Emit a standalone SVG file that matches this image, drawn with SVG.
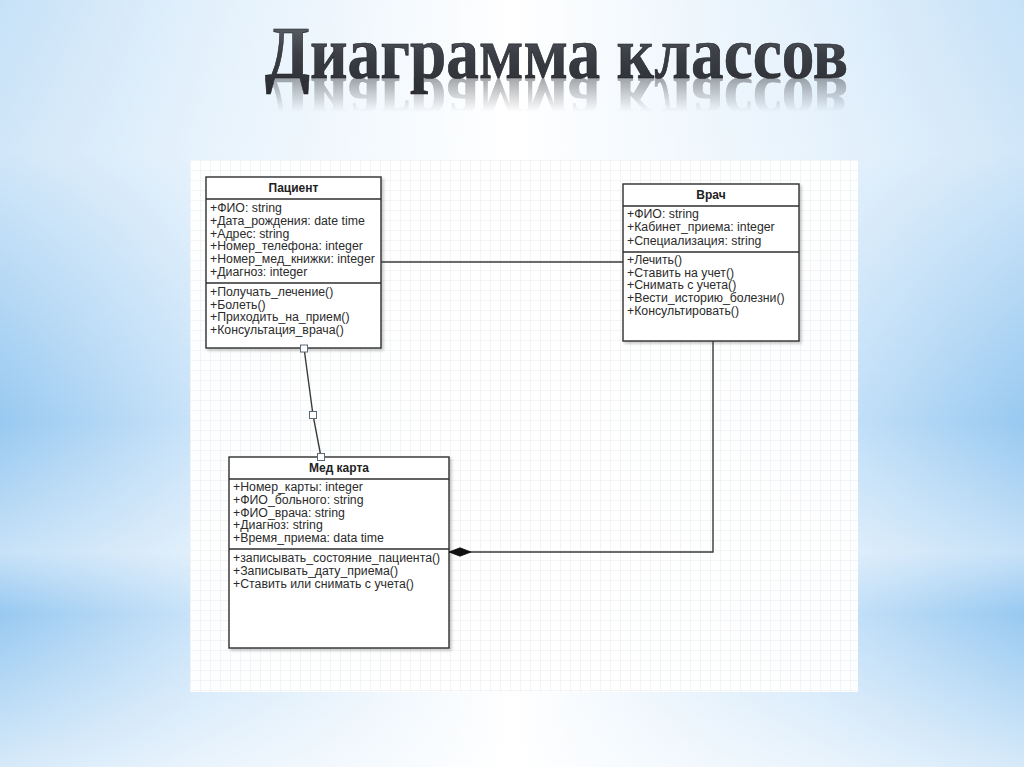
<svg xmlns="http://www.w3.org/2000/svg" width="1024" height="767" viewBox="0 0 1024 767">
  <defs>
    <linearGradient id="bgH" x1="0" y1="0" x2="1" y2="0">
      <stop offset="0" stop-color="#98c9f1"/>
      <stop offset="0.2" stop-color="#cbe4f9"/>
      <stop offset="0.5" stop-color="#ffffff"/>
      <stop offset="0.8" stop-color="#cbe4f9"/>
      <stop offset="1" stop-color="#98c9f1"/>
    </linearGradient>
    <linearGradient id="bgV" x1="0" y1="0" x2="0" y2="1">
      <stop offset="0" stop-color="#ffffff" stop-opacity="0.45"/>
      <stop offset="0.2" stop-color="#ffffff" stop-opacity="0.55"/>
      <stop offset="0.55" stop-color="#ffffff" stop-opacity="0"/>
      <stop offset="0.72" stop-color="#ffffff" stop-opacity="0.45"/>
      <stop offset="0.8" stop-color="#ffffff" stop-opacity="0"/>
      <stop offset="1" stop-color="#ffffff" stop-opacity="0.6"/>
    </linearGradient>
    <linearGradient id="titleFill" x1="0" y1="0" x2="0" y2="1">
      <stop offset="0" stop-color="#6a6e76"/>
      <stop offset="0.5" stop-color="#3c3f46"/>
      <stop offset="1" stop-color="#2a2c31"/>
    </linearGradient>
    <linearGradient id="reflFade" x1="0" y1="0" x2="0" y2="1">
      <stop offset="0" stop-color="#fff" stop-opacity="0.55"/>
      <stop offset="1" stop-color="#fff" stop-opacity="0"/>
    </linearGradient>
    <mask id="reflMask" maskUnits="userSpaceOnUse" x="0" y="0" width="1024" height="767">
      <rect x="0" y="78" width="1024" height="34" fill="url(#reflFade)"/>
    </mask>
    <pattern id="grid" width="10" height="10" patternUnits="userSpaceOnUse" x="190" y="160">
      <path d="M10 0 L0 0 0 10" fill="none" stroke="#e8eaee" stroke-width="1"/>
    </pattern>
    <filter id="shadow" x="-5%" y="-5%" width="115%" height="115%">
      <feDropShadow dx="2" dy="2" stdDeviation="1.5" flood-color="#000" flood-opacity="0.22"/>
    </filter>
    <marker id="diamond" viewBox="0 0 22 10" refX="22" refY="5" markerWidth="22" markerHeight="10" markerUnits="userSpaceOnUse" orient="auto">
      <path d="M0 5 L11 0.8 L22 5 L11 9.2 Z" fill="#111" stroke="#111" stroke-width="0.8"/>
    </marker>
    <style>
      .box { fill: #ffffff; stroke: #2e2e2e; stroke-width: 1.4; }
      .sep { stroke: #2e2e2e; stroke-width: 1.3; }
      .name { font-family: "Liberation Sans", Arial, sans-serif; font-size: 12px; font-weight: bold; fill: #222; text-anchor: middle; }
      .item { font-family: "Liberation Sans", Arial, sans-serif; font-size: 12.3px; fill: #2b2b2b; }
      .conn { fill: none; stroke: #3a3a3a; stroke-width: 1.4; }
      .handle { fill: #ffffff; stroke: #5a6a7a; stroke-width: 1; }
      .title { font-family: "Liberation Serif", "Times New Roman", serif; font-size: 74px; font-weight: bold; }
    </style>
  </defs>

  <!-- background -->
  <rect x="0" y="0" width="1024" height="767" fill="url(#bgH)"/>
  <rect x="0" y="0" width="1024" height="767" fill="url(#bgV)"/>

  <!-- title -->
  <g id="title">
    <text id="titleText" class="title" x="265" y="78" textLength="583" lengthAdjust="spacingAndGlyphs" fill="url(#titleFill)" stroke="#1e1f23" stroke-width="0.6">Диаграмма классов</text>
    <g mask="url(#reflMask)" opacity="0.8">
      <use href="#titleText" transform="translate(0,156) scale(1,-1)"/>
    </g>
  </g>

  <!-- canvas panel -->
  <g id="panel">
    <rect x="190" y="160" width="668" height="532" fill="#ffffff" opacity="0.95"/>
    <rect x="190" y="160" width="668" height="532" fill="url(#grid)"/>
  </g>

  <!-- Пациент -->
  <g id="patient">
    <rect class="box" x="206" y="177" width="175" height="171" filter="url(#shadow)"/>
    <line class="sep" x1="206" y1="199" x2="381" y2="199"/>
    <line class="sep" x1="206" y1="283" x2="381" y2="283"/>
    <text class="name" x="293.5" y="192">Пациент</text>
    <text class="item" x="210" y="212">+ФИО: string</text>
    <text class="item" x="210" y="225">+Дата_рождения: date time</text>
    <text class="item" x="210" y="238">+Адрес: string</text>
    <text class="item" x="210" y="250">+Номер_телефона: integer</text>
    <text class="item" x="210" y="263">+Номер_мед_книжки: integer</text>
    <text class="item" x="210" y="276">+Диагноз: integer</text>
    <text class="item" x="210" y="296">+Получать_лечение()</text>
    <text class="item" x="210" y="309">+Болеть()</text>
    <text class="item" x="210" y="321">+Приходить_на_прием()</text>
    <text class="item" x="210" y="334">+Консультация_врача()</text>
  </g>

  <!-- Врач -->
  <g id="doctor">
    <rect class="box" x="623" y="184" width="176" height="157" filter="url(#shadow)"/>
    <line class="sep" x1="623" y1="206" x2="799" y2="206"/>
    <line class="sep" x1="623" y1="252" x2="799" y2="252"/>
    <text class="name" x="711" y="199">Врач</text>
    <text class="item" x="627" y="218">+ФИО: string</text>
    <text class="item" x="627" y="231">+Кабинет_приема: integer</text>
    <text class="item" x="627" y="245">+Специализация: string</text>
    <text class="item" x="627" y="264">+Лечить()</text>
    <text class="item" x="627" y="277">+Ставить на учет()</text>
    <text class="item" x="627" y="289">+Снимать с учета()</text>
    <text class="item" x="627" y="302">+Вести_историю_болезни()</text>
    <text class="item" x="627" y="315">+Консультировать()</text>
  </g>

  <!-- Мед карта -->
  <g id="medcard">
    <rect class="box" x="229" y="457" width="220" height="191" filter="url(#shadow)"/>
    <line class="sep" x1="229" y1="479" x2="449" y2="479"/>
    <line class="sep" x1="229" y1="549" x2="449" y2="549"/>
    <text class="name" x="339" y="472">Мед карта</text>
    <text class="item" x="233" y="491">+Номер_карты: integer</text>
    <text class="item" x="233" y="504">+ФИО_больного: string</text>
    <text class="item" x="233" y="517">+ФИО_врача: string</text>
    <text class="item" x="233" y="529">+Диагноз: string</text>
    <text class="item" x="233" y="542">+Время_приема: data time</text>
    <text class="item" x="233" y="562">+записывать_состояние_пациента()</text>
    <text class="item" x="233" y="575">+Записывать_дату_приема()</text>
    <text class="item" x="233" y="588">+Ставить или снимать с учета()</text>
  </g>

  <!-- connectors -->
  <g id="connectors">
    <path class="conn" d="M381 262 L623 262"/>
    <path class="conn" d="M304 348 L313 415 L321 457"/>
    <path class="conn" d="M713 341 L713 552 L449 552" marker-end="url(#diamond)"/>
    <rect class="handle" x="300.5" y="345" width="7" height="7"/>
    <rect class="handle" x="309.5" y="411.5" width="7" height="7"/>
    <rect class="handle" x="317.5" y="453.5" width="7" height="7"/>
  </g>
</svg>
